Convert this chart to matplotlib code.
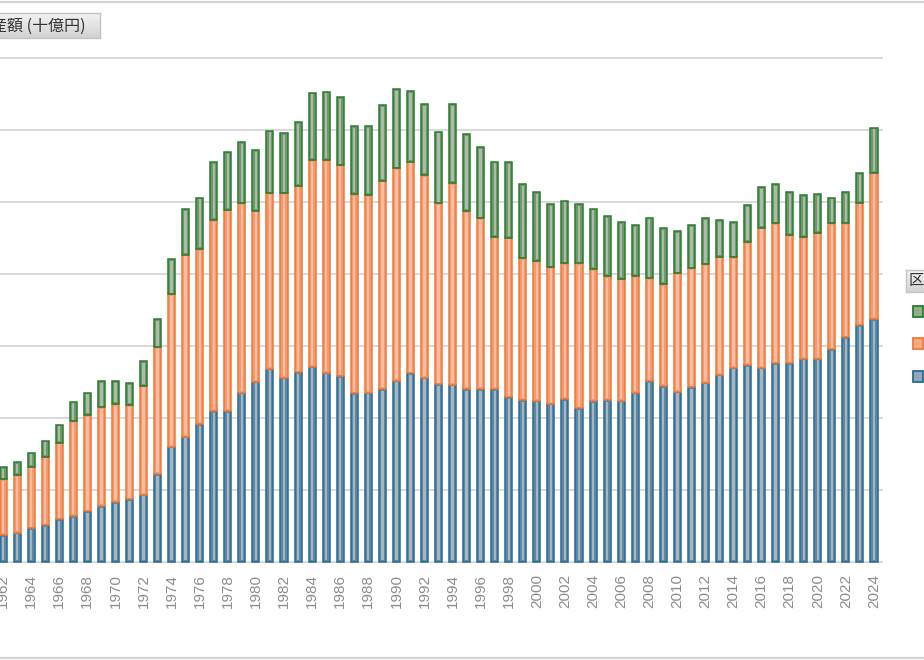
import matplotlib
matplotlib.use("Agg")
import matplotlib.pyplot as plt
import numpy as np
from matplotlib.lines import Line2D
from matplotlib.patches import Rectangle
from matplotlib.colors import LinearSegmentedColormap

# ---------------- data (十億円) ----------------
years = list(range(1962, 2025))
series_blue = [750, 814, 936, 1019, 1186, 1278, 1408, 1556, 1667, 1742,
               1870, 2444, 3203, 3481, 3834, 4195, 4195, 4703, 5009, 5370,
               5120, 5270, 5425, 5259, 5167, 4686, 4703, 4806, 5037, 5242,
               5120, 4937, 4925, 4806, 4806, 4806, 4575, 4500, 4481, 4398,
               4528, 4270, 4473, 4500, 4481, 4703, 5020, 4889, 4731, 4853,
               4981, 5203, 5398, 5473, 5398, 5520, 5520, 5648, 5648, 5909,
               6237, 6570, 6750]
series_orange = [1547, 1603, 1711, 1906, 2128, 2631, 2675, 2742, 2722, 2620,
                 3028, 3520, 4234, 5056, 4862, 5306, 5592, 5262, 4750, 4873,
                 5123, 5184, 5742, 5909, 5853, 5537, 5492, 5787, 5900, 5878,
                 5631, 5028, 5603, 4945, 4742, 4231, 4434, 3937, 3881, 3789,
                 3770, 4028, 3667, 3445, 3389, 3242, 2861, 2834, 3289, 3306,
                 3289, 3278, 3067, 3417, 3889, 3889, 3564, 3381, 3500, 3500,
                 3173, 3411, 4064]
series_green = [333, 353, 389, 444, 500, 544, 619, 722, 631, 603,
                678, 778, 972, 1261, 1425, 1603, 1595, 1703, 1686, 1739,
                1667, 1761, 1870, 1897, 1889, 1889, 1917, 2095, 2203, 1964,
                1972, 1989, 2195, 2139, 1972, 2084, 2095, 2064, 1917, 1758,
                1739, 1647, 1675, 1667, 1575, 1408, 1683, 1556, 1167, 1195,
                1278, 1020, 972, 1028, 1122, 1092, 1195, 1167, 1075, 711,
                870, 817, 1250]
tick_years = list(range(1962, 2025, 2))
title_text = "産額 (十億円)"
legend_title = "区"

plt.rcParams['font.family'] = ['Liberation Sans', 'Noto Sans CJK JP', 'DejaVu Sans']

W, H = 924, 660
fig = plt.figure(figsize=(W / 100, H / 100), dpi=100)
fig.patch.set_facecolor('white')


def fx(px):
    return px / W


def fy(py):
    return (H - py) / H


# ---------------- main axes ----------------
ax = fig.add_axes([fx(-20), fy(563.8), 903 / W, 507.6 / H])
ax.set_xlim(1960.36, 2024.64)
ax.set_ylim(-50, 14050)
ax.set_yticks(range(0, 14001, 2000))
ax.yaxis.grid(True, color='#d9d9d9', lw=1.4)
ax.set_axisbelow(True)
ax.tick_params(axis='y', left=False, labelleft=False)
ax.set_xticks(tick_years)
ax.set_xticklabels([str(y) for y in tick_years], rotation=90,
                   color='#8c8c8c', fontsize=11)
ax.tick_params(axis='x', length=0, pad=7.5)
for s in ax.spines.values():
    s.set_visible(False)

x = np.array(years)
b = np.array(series_blue, dtype=float)
o = np.array(series_orange, dtype=float)
g = np.array(series_green, dtype=float)

specs = [
    (b, np.zeros_like(b), '#5c88a5', '#2a6a8f', '#a3b6c2'),
    (o, b, '#f39b6e', '#ee7a3a', '#f8bca0'),
    (g, b + o, '#6f996d', '#2b7a30', '#aabca7'),
]
bw = 0.5
for vals, bottom, face, edge, light in specs:
    ax.bar(x, vals, width=bw, bottom=bottom, color=face, edgecolor=edge,
           linewidth=1.1, zorder=2)
    ax.bar(x, vals - 90, width=0.17, bottom=bottom + 45, color=light,
           linewidth=0, zorder=3)

# ---------------- frame lines ----------------
fig.add_artist(Line2D([0, 1], [fy(1.5), fy(1.5)], transform=fig.transFigure,
                      color='#d4d4d4', lw=1.6))
fig.add_artist(Line2D([0, 1], [fy(657.5), fy(657.5)], transform=fig.transFigure,
                      color='#d4d4d4', lw=1.6))

# ---------------- title button ----------------
cmap = LinearSegmentedColormap.from_list('btn', ['#f3f3f3', '#d2d2d2'])
grad = np.linspace(0, 1, 50).reshape(-1, 1)
bax = fig.add_axes([fx(-5), fy(38), 105 / W, 25 / H])
bax.imshow(grad, aspect='auto', cmap=cmap, extent=[0, 1, 0, 1], origin='upper')
bax.set_xlim(0, 1)
bax.set_ylim(0, 1)
bax.set_xticks([])
bax.set_yticks([])
for s in bax.spines.values():
    s.set_color('#c4c4c4')
    s.set_linewidth(1)
fig.text(fx(-9), fy(26), title_text, fontsize=11.5, color='#333333',
         family=['Noto Sans CJK JP', 'DejaVu Sans'], va='center', ha='left')

# ---------------- legend (cut off on right) ----------------
lax = fig.add_axes([fx(906), fy(292), 30 / W, 22 / H])
lax.imshow(grad, aspect='auto', cmap=cmap, extent=[0, 1, 0, 1], origin='upper')
lax.set_xlim(0, 1)
lax.set_ylim(0, 1)
lax.set_xticks([])
lax.set_yticks([])
for s in lax.spines.values():
    s.set_color('#c4c4c4')
    s.set_linewidth(1)
fig.text(fx(908.5), fy(281), legend_title, fontsize=11, color='#333333',
         family=['Noto Sans CJK JP', 'DejaVu Sans'], va='center', ha='left')

leg_items = [(306, '#8fae8c', '#2b7a30'),
             (338, '#f6a982', '#ee7a3a'),
             (371, '#8ea8b9', '#2a6a8f')]
for top, face, edge in leg_items:
    fig.add_artist(Rectangle((fx(913), fy(top + 11)), 10 / W, 11 / H,
                             transform=fig.transFigure, facecolor=face,
                             edgecolor=edge, linewidth=1.3))

fig.savefig('out.png', dpi=100)
